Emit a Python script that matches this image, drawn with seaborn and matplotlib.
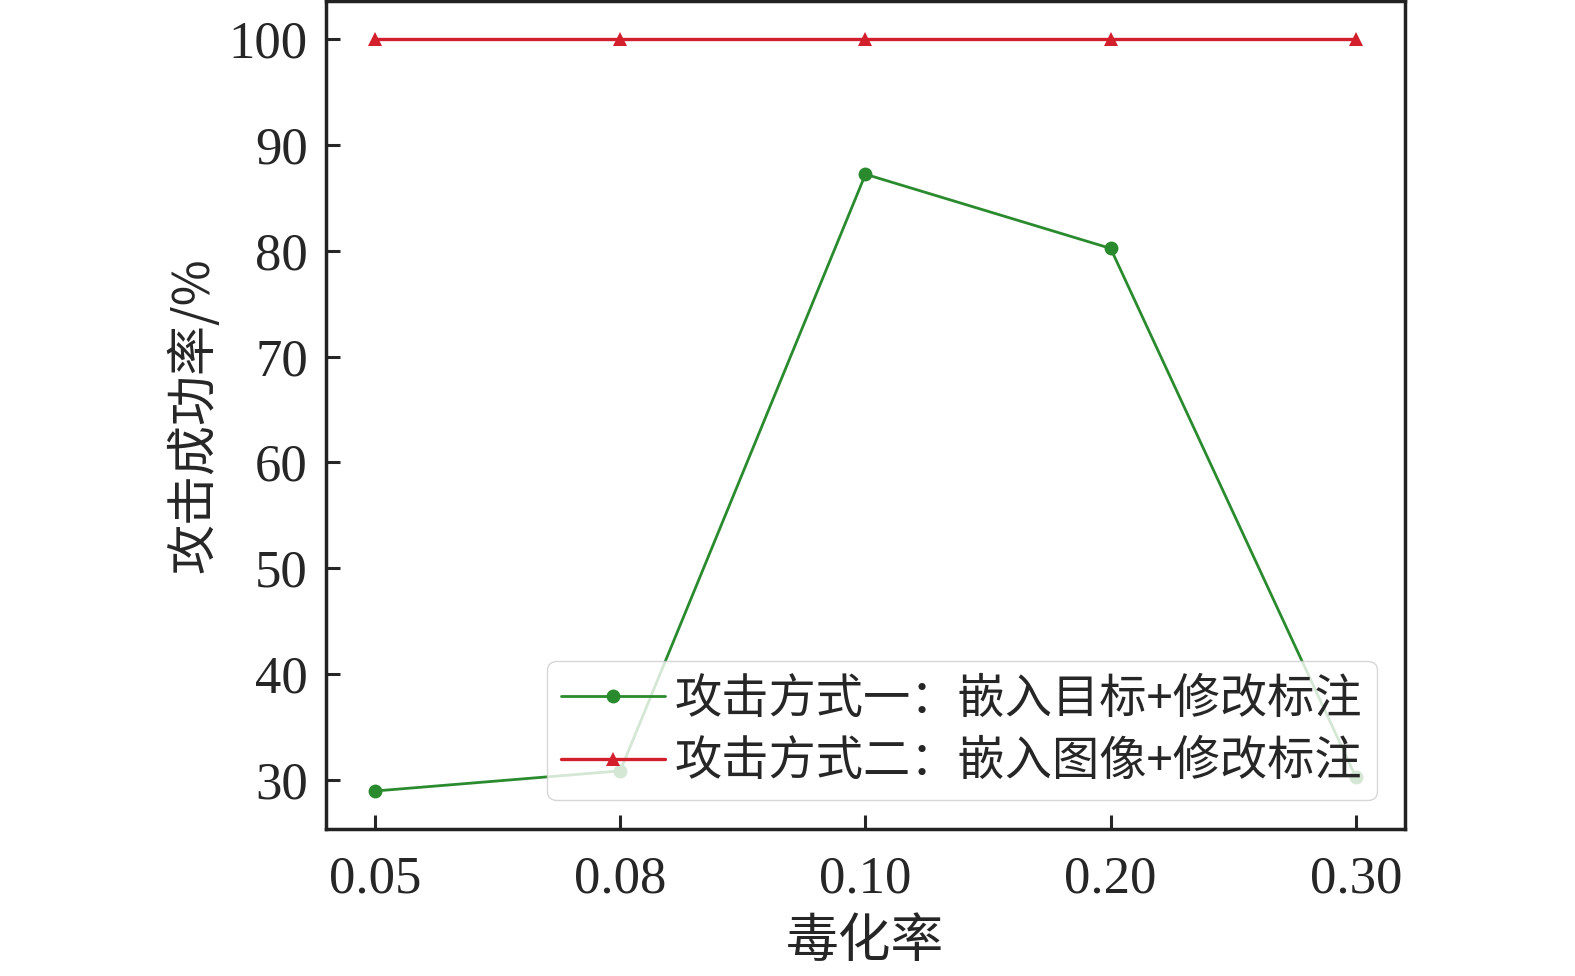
import seaborn as sns
import matplotlib.pyplot as plt
import pandas as pd

rates = ["0.05", "0.08", "0.10", "0.20", "0.30"]
attack1 = [29.0, 30.9, 87.2, 80.2, 30.3]
attack2 = [100, 100, 100, 100, 100]
name1 = "攻击方式一：嵌入目标+修改标注"
name2 = "攻击方式二：嵌入图像+修改标注"

sns.set_style("ticks")
plt.rcParams['font.family'] = ['Liberation Serif', 'Noto Sans CJK SC', 'DejaVu Sans']
plt.rcParams['xtick.direction'] = 'in'
plt.rcParams['ytick.direction'] = 'in'

pos = list(range(len(rates)))
df1 = pd.DataFrame({"x": pos, "y": attack1})
df2 = pd.DataFrame({"x": pos, "y": attack2})

fig = plt.figure(figsize=(15.75, 9.76), dpi=100)
ax = fig.add_axes([0.207, 0.151, 0.685, 0.848])

sns.lineplot(data=df1, x="x", y="y", ax=ax, color="#2a8a2e", marker="o",
             markersize=10, linewidth=2, markeredgewidth=0, label=name1)
sns.lineplot(data=df2, x="x", y="y", ax=ax, color="#d21f2b", marker="^",
             markersize=10, linewidth=2.4, markeredgewidth=0, label=name2)

ax.set_xticks(pos)
ax.set_xticklabels(rates)
ax.set_yticks([30, 40, 50, 60, 70, 80, 90, 100])
ax.tick_params(labelsize=38, length=10, width=2.2)
ax.tick_params(axis="x", pad=19)
ax.tick_params(axis="y", pad=13)
for s in ax.spines.values():
    s.set_linewidth(2.5)
    s.set_color("#222222")
    s.set_visible(True)

ax.set_xlabel("毒化率", fontsize=38, family=['Noto Sans CJK SC'], labelpad=8)
ax.set_ylabel("攻击成功率/%", fontsize=36, family=['Noto Sans CJK SC', 'Liberation Serif'], labelpad=6)

leg = ax.legend(loc="lower right", prop={'family': ['Noto Sans CJK SC'], 'size': 34},
                framealpha=0.8, borderpad=0.3, handlelength=2.2, handletextpad=0.2,
                labelspacing=0.3, borderaxespad=0.6)

fig.savefig("out.png", dpi=100)
